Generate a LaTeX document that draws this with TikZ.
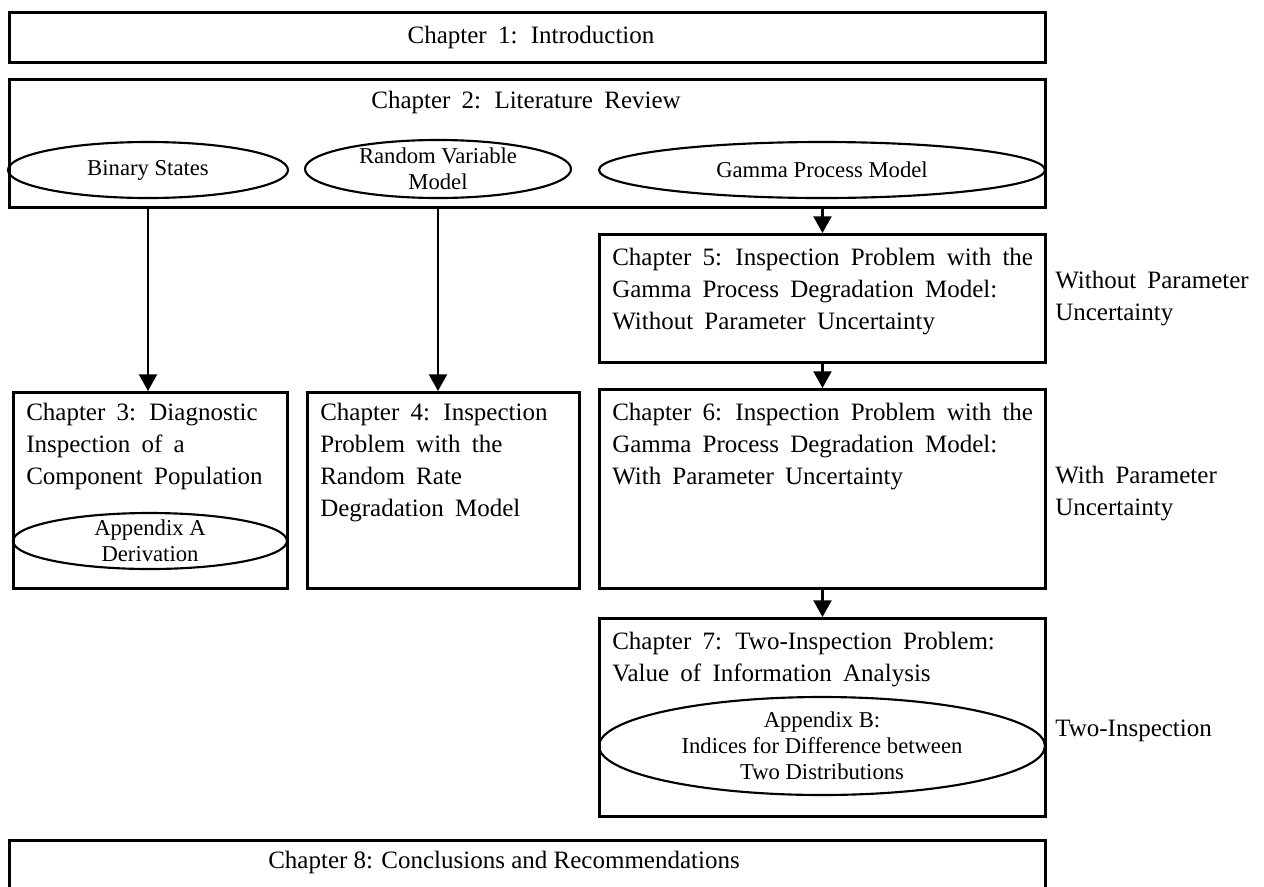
\documentclass[tikz,border=0pt]{standalone}
\usepackage{fontspec}
\setmainfont{Liberation Serif}
\newfontfamily\chfont[WordSpace=1.8]{Liberation Serif}
\usetikzlibrary{shapes.geometric,arrows.meta}
\tikzset{
  box/.style={draw, line width=2.2pt, rectangle, inner sep=0pt, anchor=north west},
  oval/.style={draw, line width=1.6pt, ellipse, inner sep=0pt},
  ctext/.style={font=\chfont\fontsize{18.75pt}{24pt}\selectfont, inner sep=0pt, align=left},
  ptext/.style={font=\fontsize{18.75pt}{24pt}\selectfont, inner sep=0pt, align=left},
  otext/.style={font=\fontsize{17pt}{19.5pt}\selectfont, inner sep=0pt, align=center},
  arr/.style={line width=1.6pt, -{Triangle[width=13.5pt,length=12.5pt]}}
}
\begin{document}
\begin{tikzpicture}[x=0.75pt,y=-0.75pt]
\useasboundingbox (0,0) rectangle (1264,886);
\clip (0,0) rectangle (1264,886);
% boxes
\node[box, minimum width=1036*0.75pt, minimum height=50*0.75pt] (c1) at (8,11) {};
\node[box, minimum width=1036*0.75pt, minimum height=128*0.75pt] (c2) at (8,78) {};
\node[box, minimum width=446*0.75pt, minimum height=128*0.75pt] (c5) at (598,233) {};
\node[box, minimum width=446*0.75pt, minimum height=199*0.75pt] (c6) at (598,388) {};
\node[box, minimum width=274*0.75pt, minimum height=196*0.75pt] (c3) at (12,391) {};
\node[box, minimum width=272*0.75pt, minimum height=196*0.75pt] (c4) at (306,391) {};
\node[box, minimum width=446*0.75pt, minimum height=198*0.75pt] (c7) at (598,617) {};
\node[box, minimum width=1036*0.75pt, minimum height=80*0.75pt] (c8) at (8,839) {};
% box texts
\node[ctext] (t1) at (531,37) {Chapter 1: Introduction};
\node[ctext] (t2) at (526,102) {Chapter 2: Literature Review};
\node[ptext] (t8) at (504,862) {Chapter 8: Conclusions and Recommendations};
\node[ctext, anchor=north west] (t5) at (612,248) {Chapter 5: Inspection Problem with the\\Gamma Process Degradation Model:\\Without Parameter Uncertainty};
\node[ctext, anchor=north west] (t6) at (612,403) {Chapter 6: Inspection Problem with the\\Gamma Process Degradation Model:\\With Parameter Uncertainty};
\node[ctext, anchor=north west] (t3) at (26,403) {Chapter 3: Diagnostic\\Inspection of a\\Component Population};
\node[ctext, anchor=north west] (t4) at (320,403) {Chapter 4: Inspection\\Problem with the\\Random Rate\\Degradation Model};
\node[ctext, anchor=north west] (t7) at (612,632) {Chapter 7: Two-Inspection Problem:\\Value of Information Analysis};
% ellipses
\node[oval, minimum width=280*0.75pt, minimum height=56*0.75pt,
  label={[otext]center:Binary States}] (e1) at (148,170) {};
\node[oval, minimum width=266*0.75pt, minimum height=58*0.75pt,
  label={[otext]center:Random Variable\\Model}] (e2) at (438,169) {};
\node[oval, minimum width=446*0.75pt, minimum height=56*0.75pt,
  label={[otext]center:Gamma Process Model}] (e3) at (822,170) {};
\node[oval, minimum width=274*0.75pt, minimum height=56*0.75pt,
  label={[otext]center:Appendix A\\Derivation}] (eA) at (150,541) {};
\node[oval, minimum width=446*0.75pt, minimum height=98*0.75pt,
  label={[otext]center:Appendix B:\\Indices for Difference between\\Two Distributions}] (eB) at (822,746) {};
% side labels
\node[ctext, anchor=west] (s1) at (1055,299) {Without Parameter\\Uncertainty};
\node[ctext, anchor=west] (s2) at (1055,494) {With Parameter\\Uncertainty};
\node[ctext, anchor=west] (s3) at (1055,731) {Two-Inspection};
% arrows
\draw[arr] (e1.south |- c2.south) -- (e1.south |- c3.north);
\draw[arr] (e2.south |- c2.south) -- (e2.south |- c4.north);
\draw[arr] (c5.north |- c2.south) -- (c5.north);
\draw[arr] (c5.south) -- (c6.north);
\draw[arr] (c6.south) -- (c7.north);
\end{tikzpicture}
\end{document}
